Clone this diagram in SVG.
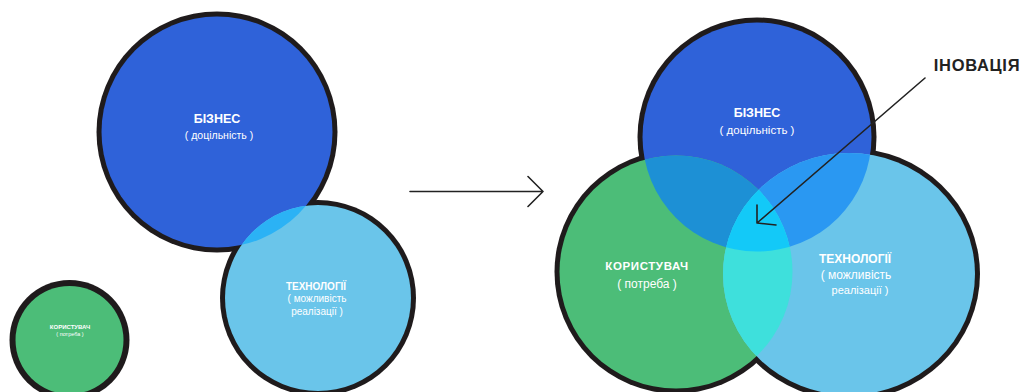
<svg xmlns="http://www.w3.org/2000/svg" width="1026" height="392" viewBox="0 0 1026 392">
<style>
.ol{fill:#1f1b1c}
.biz{fill:#2f62d9}
.usr{fill:#4cbd78}
.tec{fill:#6ac5ea}
.t{font-family:"Liberation Sans",Arial,sans-serif;fill:#ffffff;text-anchor:middle}
.b{font-weight:bold}
.ln{stroke:#222222;stroke-width:1.6;fill:none;stroke-linecap:round;stroke-linejoin:round}
</style>
<defs>
<clipPath id="cLB"><circle cx="217" cy="132" r="115.5"/></clipPath>
<clipPath id="cRB"><circle cx="757" cy="137" r="114.5"/></clipPath>
<clipPath id="cRG"><circle cx="676" cy="272" r="116.5"/></clipPath>
</defs>
<rect width="1026" height="392" fill="#ffffff"/>
<g id="outlines">
<circle class="ol" cx="217" cy="132" r="120.5"/>
<circle class="ol" cx="318" cy="298" r="98"/>
<circle class="ol" cx="69.5" cy="340" r="60"/>
<circle class="ol" cx="757" cy="137" r="119.5"/>
<circle class="ol" cx="676" cy="272" r="121.5"/>
<ellipse class="ol" cx="849" cy="274" rx="131" ry="126"/>
</g>
<g id="node-business-left">
<circle class="biz" cx="217" cy="132" r="115.5"/>
<text class="t b" x="217" y="122.5" font-size="12.5">БІЗНЕС</text>
<text class="t" x="219" y="138.5" font-size="10.5">( доцільність )</text>
</g>
<g id="node-tech-left">
<circle class="tec" cx="318" cy="298" r="93"/>
<text class="t b" x="316" y="289.5" font-size="10">ТЕХНОЛОГІЇ</text>
<text class="t" x="317" y="302" font-size="10">( можливість</text>
<text class="t" x="317" y="315" font-size="10">реалізації )</text>
</g>
<g id="node-user-left">
<circle class="usr" cx="69.5" cy="340" r="54"/>
<text class="t b" x="70" y="328.5" font-size="6">КОРИСТУВАЧ</text>
<text class="t" x="70" y="335.5" font-size="5.5">( потреба )</text>
</g>
<g id="node-business-right">
<circle class="biz" cx="757" cy="137" r="114.5"/>
<text class="t b" x="757" y="117" font-size="12.5">БІЗНЕС</text>
<text class="t" x="757" y="133.5" font-size="11.5">( доцільність )</text>
</g>
<g id="node-user-right">
<circle class="usr" cx="676" cy="272" r="116.5"/>
<text class="t b" x="647" y="269.5" font-size="11.5" letter-spacing="0.6">КОРИСТУВАЧ</text>
<text class="t" x="647" y="287.5" font-size="12">( потреба )</text>
</g>
<g id="node-tech-right">
<ellipse class="tec" cx="849" cy="274" rx="126" ry="121"/>
<text class="t b" x="855" y="263" font-size="12">ТЕХНОЛОГІЇ</text>
<text class="t" x="856" y="278.5" font-size="12">( можливість</text>
<text class="t" x="860" y="294" font-size="11">реалізації )</text>
</g>
<g id="overlaps">
<g clip-path="url(#cLB)"><circle cx="318" cy="298" r="93" fill="#2bb2f5"/></g>
<g clip-path="url(#cRB)"><circle cx="676" cy="272" r="116.5" fill="#1d90d5"/></g>
<g clip-path="url(#cRB)"><ellipse cx="849" cy="274" rx="126" ry="121" fill="#2a98f2"/></g>
<g clip-path="url(#cRG)"><ellipse cx="849" cy="274" rx="126" ry="121" fill="#3ee0dc"/></g>
<g clip-path="url(#cRB)"><g clip-path="url(#cRG)"><ellipse cx="849" cy="274" rx="126" ry="121" fill="#13c9f8"/></g></g>
</g>
<g id="node-innovation">
<text x="977" y="71" font-family="Liberation Sans,Arial,sans-serif" font-weight="bold" font-size="16.5" fill="#222222" text-anchor="middle" letter-spacing="0.7">ІНОВАЦІЯ</text>
</g>
<g id="connectors">
<path class="ln" d="M925 78L757 223M757 205L757 223L776 225"/>
<path class="ln" d="M410 191.5H543M528 176.5L543 191.5L528 206.5"/>
</g>
</svg>
